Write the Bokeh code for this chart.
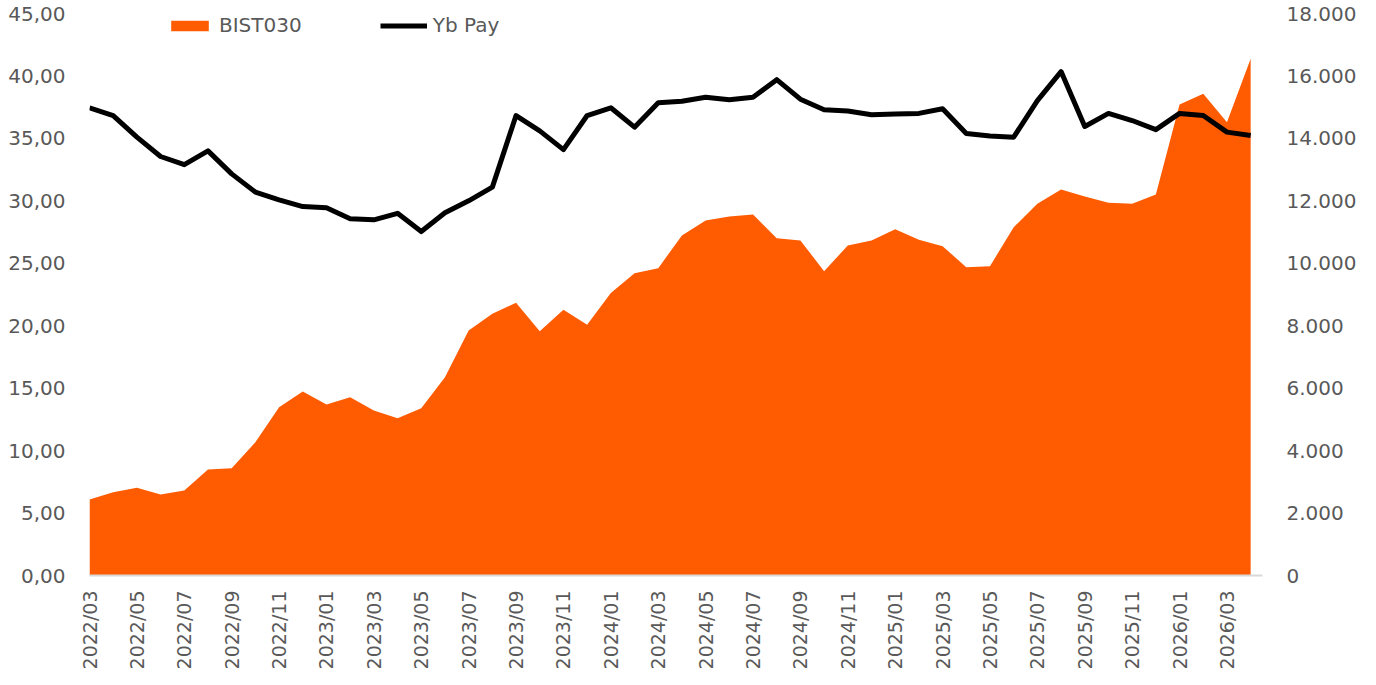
import math
from bokeh.plotting import figure
from bokeh.models import (Range1d, LinearAxis, FixedTicker, Legend, LegendItem,
                          ColumnDataSource)
from bokeh.embed import file_html
from bokeh.resources import INLINE

months = ["2022/03", "2022/04", "2022/05", "2022/06", "2022/07", "2022/08", "2022/09",
          "2022/10", "2022/11", "2022/12", "2023/01", "2023/02", "2023/03", "2023/04",
          "2023/05", "2023/06", "2023/07", "2023/08", "2023/09", "2023/10", "2023/11",
          "2023/12", "2024/01", "2024/02", "2024/03", "2024/04", "2024/05", "2024/06",
          "2024/07", "2024/08", "2024/09", "2024/10", "2024/11", "2024/12", "2025/01",
          "2025/02", "2025/03", "2025/04", "2025/05", "2025/06", "2025/07", "2025/08",
          "2025/09", "2025/10", "2025/11", "2025/12", "2026/01", "2026/02", "2026/03",
          "2026/04"]

bist030 = [2434, 2669, 2808, 2594, 2722, 3395, 3437, 4270, 5391, 5894,
           5477, 5712, 5285, 5039, 5359, 6352, 7848, 8382, 8735, 7826,
           8510, 8030, 9050, 9683, 9843, 10890, 11371, 11499, 11563, 10804,
           10730, 9747, 10570, 10730, 11090, 10752, 10547, 9875, 9907, 11156,
           11906, 12364, 12140, 11938, 11906, 12203, 15086, 15429, 14519, 16550]

yb_pay = [37.45, 36.83, 35.1, 33.55, 32.9, 34.0, 32.16, 30.7, 30.08, 29.54,
          29.44, 28.56, 28.48, 29.0, 27.54, 29.04, 30.0, 31.1, 36.83, 35.6,
          34.1, 36.83, 37.45, 35.9, 37.85, 37.98, 38.3, 38.1, 38.3, 39.7,
          38.14, 37.3, 37.2, 36.9, 36.96, 37.0, 37.37, 35.4, 35.2, 35.1,
          38.03, 40.35, 35.95, 37.0, 36.43, 35.7, 37.0, 36.83, 35.5, 35.23]

left_ticks = [0, 5, 10, 15, 20, 25, 30, 35, 40, 45]
left_labels = ["0,00", "5,00", "10,00", "15,00", "20,00", "25,00", "30,00", "35,00", "40,00", "45,00"]
right_ticks = [0, 2000, 4000, 6000, 8000, 10000, 12000, 14000, 16000, 18000]
right_labels = ["0", "2.000", "4.000", "6.000", "8.000", "10.000", "12.000", "14.000", "16.000", "18.000"]

FONT = "DejaVu Sans"
TXT = "#595959"
ORANGE = "#FF5B00"

idx = list(range(len(months)))
src = ColumnDataSource(dict(x=idx, bist=bist030, yb=yb_pay, zero=[0] * len(idx)))

p = figure(width=1376, height=685, output_backend="svg", toolbar_location=None,
           x_range=Range1d(0, 49.5), y_range=Range1d(0, 45),
           min_border_left=89, min_border_right=114, min_border_top=13, min_border_bottom=110,
           x_axis_location="below", y_axis_location="left")
p.extra_y_ranges = {"right": Range1d(0, 18000)}
p.outline_line_color = None
p.xgrid.visible = False
p.ygrid.visible = False

area = p.varea(x="x", y1="zero", y2="bist", source=src, fill_color=ORANGE,
               y_range_name="right")
line = p.line(x="x", y="yb", source=src, line_color="black", line_width=5,
              line_join="round")

# x axis
xa = p.xaxis[0]
xa.ticker = FixedTicker(ticks=idx[::2])
xa.major_label_overrides = {i: months[i] for i in idx}
xa.major_label_orientation = math.pi / 2
xa.axis_line_color = "#D9D9D9"
xa.axis_line_width = 2
xa.major_tick_line_color = None
xa.minor_tick_line_color = None
xa.major_tick_out = 0
xa.major_tick_in = 0
xa.major_label_standoff = 15
xa.major_label_text_font = FONT
xa.major_label_text_font_size = "19px"
xa.major_label_text_color = TXT

# left axis
ya = p.yaxis[0]
ya.ticker = FixedTicker(ticks=left_ticks)
ya.major_label_overrides = {t: l for t, l in zip(left_ticks, left_labels)}
ya.axis_line_color = None
ya.major_tick_line_color = None
ya.minor_tick_line_color = None
ya.major_tick_out = 0
ya.major_tick_in = 0
ya.major_label_standoff = 24
ya.major_label_text_font = FONT
ya.major_label_text_font_size = "20px"
ya.major_label_text_color = TXT

# right axis
ra = LinearAxis(y_range_name="right", ticker=FixedTicker(ticks=right_ticks))
ra.major_label_overrides = {t: l for t, l in zip(right_ticks, right_labels)}
ra.axis_line_color = None
ra.major_tick_line_color = None
ra.minor_tick_line_color = None
ra.major_tick_out = 0
ra.major_tick_in = 0
ra.major_label_standoff = 24
ra.major_label_text_font = FONT
ra.major_label_text_font_size = "20px"
ra.major_label_text_color = TXT
p.add_layout(ra, "right")

legend = Legend(items=[LegendItem(label="BIST030", renderers=[area]),
                       LegendItem(label="Yb Pay", renderers=[line])],
                location=(77, 538), orientation="horizontal",
                border_line_color=None, background_fill_alpha=0,
                padding=0, margin=0, spacing=78, glyph_width=47, glyph_height=13,
                label_standoff=6, label_text_font=FONT, label_text_font_size="20px",
                label_text_color=TXT)
p.add_layout(legend)

open("out.html", "w").write(file_html(p, INLINE))
